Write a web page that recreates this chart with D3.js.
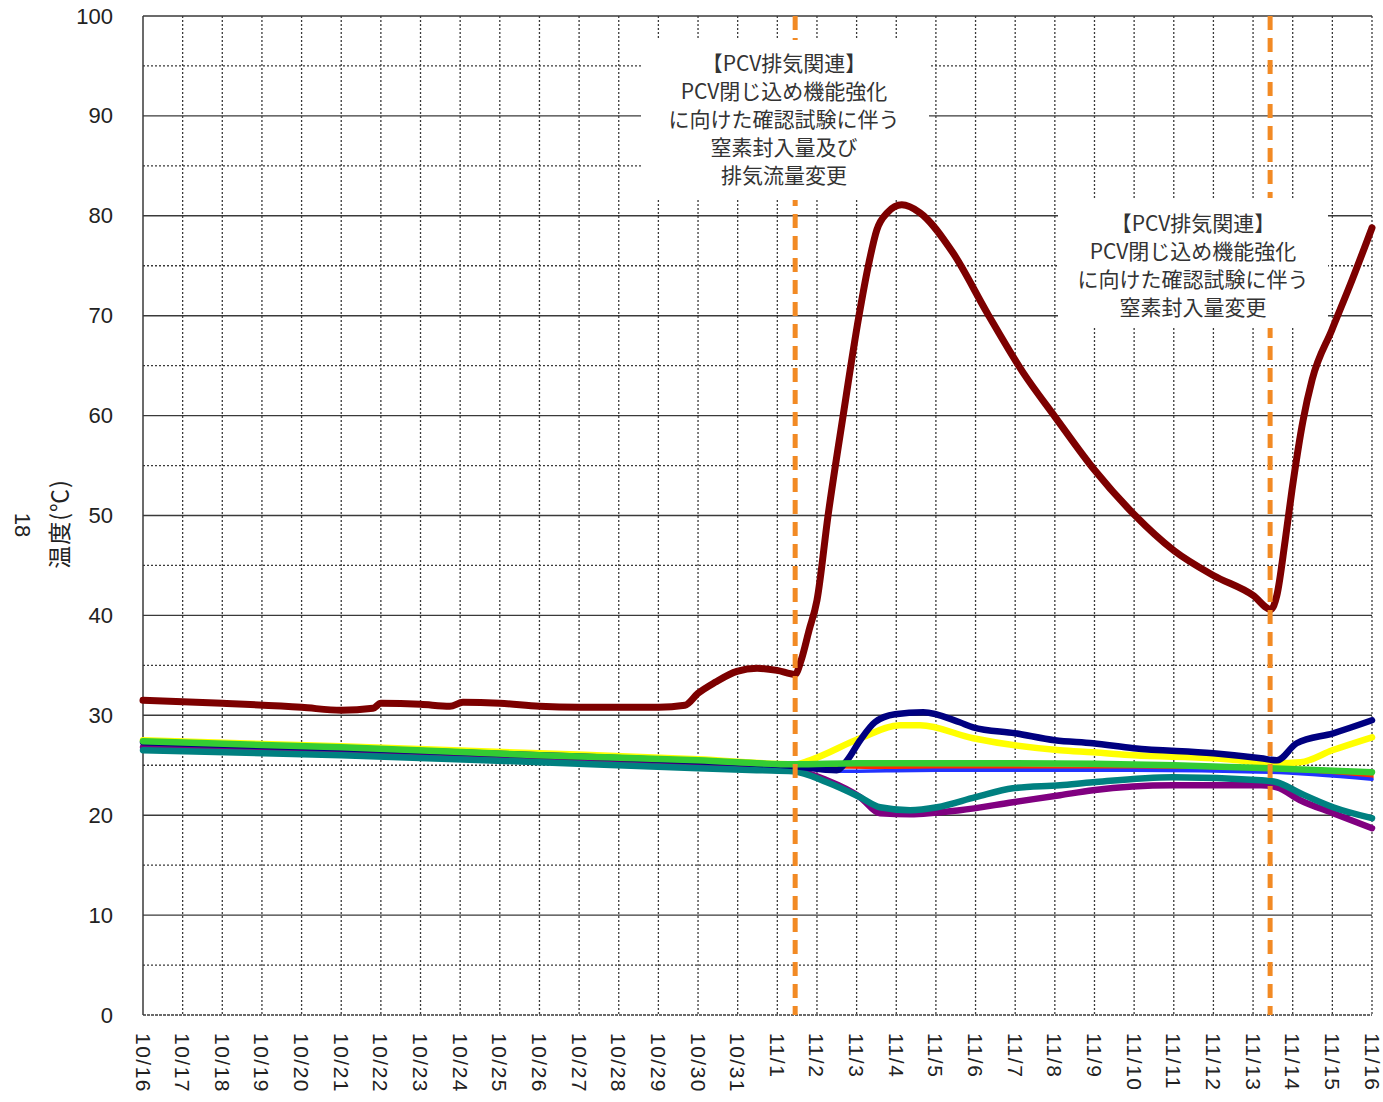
<!DOCTYPE html>
<html><head><meta charset="utf-8">
<script src="https://cdn.jsdelivr.net/npm/d3@7/dist/d3.min.js"></script>
<style>
html,body{margin:0;padding:0;background:#fff;}
svg{display:block;}
</style></head>
<body>
<script>
// ---- data (day index from 10/16) ----
const tickLabels = ["10/16","10/17","10/18","10/19","10/20","10/21","10/22","10/23","10/24","10/25","10/26","10/27","10/28","10/29","10/30","10/31","11/1","11/2","11/3","11/4","11/5","11/6","11/7","11/8","11/9","11/10","11/11","11/12","11/13","11/14","11/15","11/16"];
const yTicks = [0,10,20,30,40,50,60,70,80,90,100];
const eventDays = [16.45, 28.43];

const seriesMaroon = [[0,31.5],[2,31.2],[4,30.8],[5,30.5],[5.8,30.7],[6,31.2],[7,31.1],[7.74,30.9],[8.07,31.3],[9,31.2],[10,30.9],[11,30.8],[12,30.8],[13,30.8],[13.67,31.0],[14,32.2],[14.43,33.3],[14.98,34.4],[15.49,34.7],[15.99,34.5],[16.45,34.1],[16.6,35.5],[16.8,38.5],[17.0,41.5],[17.28,50],[17.66,60],[18.06,70],[18.29,74.9],[18.51,78.6],[18.77,80.3],[19.14,81.1],[19.6,80.3],[20.43,76.3],[21.29,70.3],[22.2,64.3],[23.0,59.9],[23.99,54.6],[25.0,50.1],[26.0,46.5],[27.0,44.0],[28.0,42.0],[28.45,40.6],[28.6,42],[28.81,47.5],[28.98,52.5],[29.26,59.5],[29.49,63.6],[29.99,68.6],[30.5,73.6],[31,78.8]];
const seriesNavy = [[0,27.3],[5,26.7],[10,26.0],[14,25.4],[16.45,24.9],[17.5,24.5],[17.76,25.5],[18.09,27.5],[18.46,29.3],[18.97,30.1],[19.68,30.3],[20.6,29.3],[20.94,28.8],[22.0,28.2],[23.0,27.5],[23.96,27.2],[24.99,26.7],[27.0,26.2],[28.2,25.7],[28.6,25.5],[29.1,27.2],[30.02,28.2],[31,29.5]];
const seriesYellow = [[0,27.5],[5,26.9],[10,26.2],[14,25.6],[16.45,25.1],[16.82,25.5],[18.09,27.7],[19.1,29.0],[19.6,29.0],[20.94,27.7],[23.13,26.5],[23.96,26.3],[25.0,26.0],[27.0,25.7],[28.2,25.3],[28.6,25.2],[29.2,25.3],[30.0,26.5],[31,27.8]];
const seriesGreen = [[0,27.4],[5,26.8],[10,26.0],[14,25.5],[16.45,25.1],[18,25.2],[22,25.2],[26,25.0],[28.4,24.7],[31,24.3]];
const seriesTeal = [[0,26.5],[5,26.0],[10,25.3],[14,24.7],[15.56,24.5],[16.4,24.4],[17.25,23.3],[18.09,21.8],[18.59,20.8],[19.35,20.5],[20.03,20.8],[21.0,21.8],[21.94,22.7],[23.13,23.0],[23.96,23.3],[25.97,23.8],[28.2,23.5],[28.6,23.3],[29.19,22.2],[30.02,20.8],[31,19.7]];
const seriesPurple = [[0,26.8],[5,26.1],[10,25.4],[14,24.8],[16.4,24.5],[17.25,23.5],[18.09,21.8],[18.59,20.2],[19.35,20.1],[20.6,20.5],[21.94,21.3],[23.13,22.0],[23.96,22.5],[25.97,23.0],[28.2,23.0],[28.6,22.8],[29.19,21.5],[30.02,20.2],[31,18.7]];
const seriesRed = [[0,26.9],[10,25.7],[16.45,24.9],[20,24.7],[25,24.6],[28.4,24.4],[31,23.8]];
const seriesBlue = [[0,26.7],[16.45,24.8],[17.5,24.4],[20,24.5],[25,24.5],[28.4,24.3],[31,23.6]];
const seriesBrown = [[0,27.0],[16.45,25.0],[20,24.8],[28,24.6],[31,24.0]];

const note1 = ["【PCV排気関連】","PCV閉じ込め機能強化","に向けた確認試験に伴う","窒素封入量及び","排気流量変更"];
const note2 = ["【PCV排気関連】","PCV閉じ込め機能強化","に向けた確認試験に伴う","窒素封入量変更"];

// ---- drawing ----
const W = 1383, H = 1102;
const svg = d3.select("body").append("svg").attr("width", W).attr("height", H);
const x = d3.scaleLinear().domain([0, 31]).range([143, 1372]);
const y = d3.scaleLinear().domain([0, 100]).range([1015, 16]);
const gridColor = "#3a3a3a";

// horizontal gridlines
const g = svg.append("g");
d3.range(5, 100, 10).forEach(v => {
  g.append("line").attr("x1", x(0)).attr("x2", x(31)).attr("y1", y(v)).attr("y2", y(v))
    .attr("stroke", gridColor).attr("stroke-width", 1.3).attr("stroke-dasharray", "2,2");
});
yTicks.forEach(v => {
  g.append("line").attr("x1", x(0)).attr("x2", x(31)).attr("y1", y(v)).attr("y2", y(v))
    .attr("stroke", gridColor).attr("stroke-width", 1.4)
    .attr("stroke-dasharray", v === 0 ? "3,1" : null);
});
// vertical gridlines
tickLabels.forEach((t, i) => {
  g.append("line").attr("x1", x(i)).attr("x2", x(i)).attr("y1", y(100)).attr("y2", y(0))
    .attr("stroke", gridColor).attr("stroke-width", i === 0 ? 1.5 : 1.3)
    .attr("stroke-dasharray", i === 0 ? null : "2,2");
});

// y tick labels
svg.append("g").selectAll("text").data(yTicks).join("text")
  .attr("x", 113).attr("y", d => y(d)).attr("text-anchor", "end")
  .attr("dominant-baseline", "central")
  .attr("font-family", "Liberation Sans, Arial, sans-serif").attr("font-size", 22)
  .attr("fill", "#222").text(d => d);

// x tick labels
svg.append("g").selectAll("text").data(tickLabels).join("text")
  .attr("transform", (d, i) => `translate(${x(i)},1033) rotate(90)`)
  .attr("text-anchor", "start").attr("dominant-baseline", "central")
  .attr("font-family", "Liberation Sans, Arial, sans-serif").attr("font-size", 21)
  .attr("letter-spacing", 1.5)
  .attr("fill", "#222").text(d => d);

// axis title
svg.append("text").attr("transform", "translate(58,524) rotate(-90)")
  .attr("text-anchor", "middle").attr("dominant-baseline", "central")
  .attr("font-family", "Noto Sans CJK JP, sans-serif").attr("font-size", 23)
  .attr("letter-spacing", 1)
  .attr("fill", "#222").text("温度(℃)");
svg.append("text").attr("transform", "translate(22,525) rotate(90)")
  .attr("text-anchor", "middle").attr("dominant-baseline", "central")
  .attr("font-family", "Liberation Sans, Arial, sans-serif").attr("font-size", 22)
  .attr("fill", "#222").text("18");

// series
const line = d3.line().x(d => x(d[0])).y(d => y(d[1])).curve(d3.curveMonotoneX);
const series = [
  {d: seriesBrown, c: "#c8661a", w: 3.5},
  {d: seriesRed, c: "#ff2a00", w: 3.5},
  {d: seriesBlue, c: "#2233ff", w: 3.5},
  {d: seriesPurple, c: "#800080", w: 6.5},
  {d: seriesTeal, c: "#008080", w: 6.5},
  {d: seriesYellow, c: "#ffff00", w: 6.5},
  {d: seriesNavy, c: "#000080", w: 6.5},
  {d: seriesGreen, c: "#33cc33", w: 6.5},
  {d: seriesMaroon, c: "#7d0000", w: 7}
];
svg.append("g").selectAll("path").data(series).join("path")
  .attr("d", s => line(s.d)).attr("fill", "none")
  .attr("stroke", s => s.c).attr("stroke-width", s => s.w)
  .attr("stroke-linejoin", "round").attr("stroke-linecap", "round");

// event lines
svg.append("g").selectAll("line").data(eventDays).join("line")
  .attr("x1", d => x(d)).attr("x2", d => x(d)).attr("y1", y(100)).attr("y2", y(0))
  .attr("stroke", "#f28a24").attr("stroke-width", 5).attr("stroke-dasharray", "14,8");

// notes
function note(lines, rx, ry, rw, rh, cx, y0) {
  const gg = svg.append("g");
  gg.append("rect").attr("x", rx).attr("y", ry).attr("width", rw).attr("height", rh).attr("fill", "#fff");
  gg.selectAll("text").data(lines).join("text")
    .attr("x", cx).attr("y", (d, i) => y0 + i * 28)
    .attr("text-anchor", "middle").attr("dominant-baseline", "central")
    .attr("font-family", "Noto Sans CJK JP, sans-serif").attr("font-size", 21)
    .attr("fill", "#333").text(d => d);
}
note(note1, 641, 40, 288, 160, 784, 62);
note(note2, 1058, 198, 270, 130, 1193, 222);
</script>
</body></html>
